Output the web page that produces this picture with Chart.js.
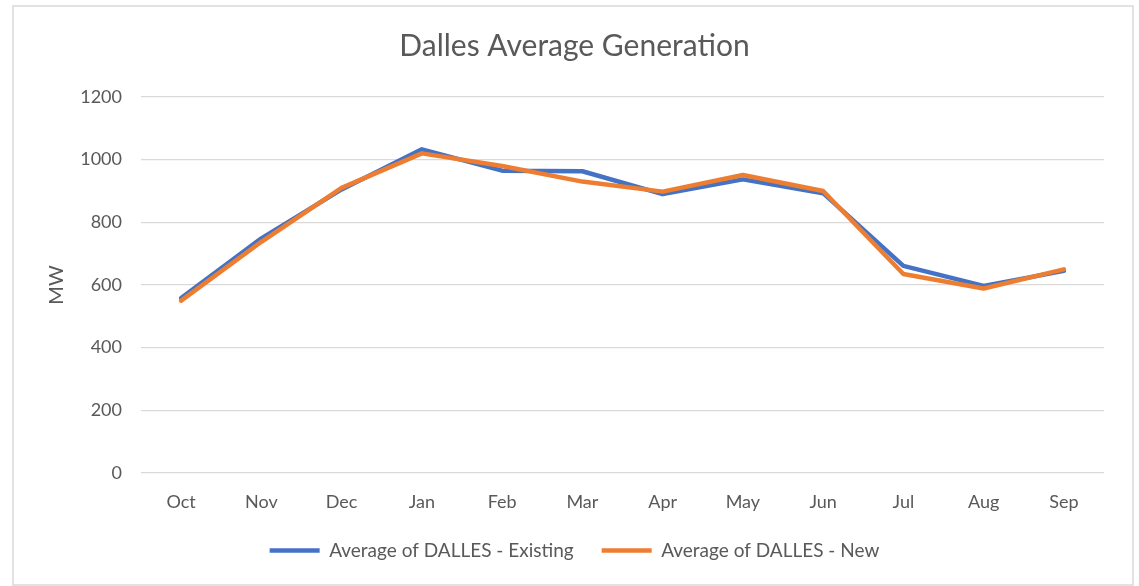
<!DOCTYPE html>
<html>
<head>
<meta charset="utf-8">
<script src="https://cdn.jsdelivr.net/npm/chart.js@4/dist/chart.umd.min.js"></script>
<style>
  html, body { margin: 0; padding: 0; background: #ffffff; }
  #wrap { position: relative; width: 1139px; height: 586px; }
</style>
</head>
<body>
<div id="wrap"><canvas id="c" width="1139" height="586"></canvas></div>
<script>
const months = ['Oct', 'Nov', 'Dec', 'Jan', 'Feb', 'Mar', 'Apr', 'May', 'Jun', 'Jul', 'Aug', 'Sep'];
const existingValues = [558, 749, 905, 1033, 965, 963, 890, 937, 893, 661, 597, 645];
const newValues = [550, 738, 910, 1020, 980, 930, 898, 951, 900, 635, 589, 650];
const seriesNames = ['Average of DALLES - Existing', 'Average of DALLES - New'];
const yTicks = [0, 200, 400, 600, 800, 1000, 1200];

const TEXT = '#595959';
const FONT = 'Lato, "Liberation Sans", sans-serif';
const LEG_PAD = 28;

const borderPlugin = {
  id: 'outerBorder',
  beforeDraw(chart) {
    const ctx = chart.ctx;
    ctx.save();
    ctx.fillStyle = '#ffffff';
    ctx.fillRect(0, 0, chart.width, chart.height);
    ctx.strokeStyle = '#d9d9d9';
    ctx.lineWidth = 1.5;
    ctx.strokeRect(13, 6, 1120, 579);
    ctx.restore();
  }
};

new Chart(document.getElementById('c'), {
  type: 'line',
  data: {
    labels: months,
    datasets: [
      {
        label: seriesNames[0],
        data: existingValues,
        borderColor: '#4472C4',
        backgroundColor: '#4472C4',
        borderWidth: 4.5,
        borderCapStyle: 'round',
        borderJoinStyle: 'round',
        pointRadius: 0,
        tension: 0,
        order: 2
      },
      {
        label: seriesNames[1],
        data: newValues,
        borderColor: '#ED7D31',
        backgroundColor: '#ED7D31',
        borderWidth: 4.5,
        borderCapStyle: 'round',
        borderJoinStyle: 'round',
        pointRadius: 0,
        tension: 0,
        order: 1
      }
    ]
  },
  options: {
    responsive: false,
    animation: false,
    layout: { padding: { left: 45, right: 35, top: 8, bottom: 16 } },
    plugins: {
      title: {
        display: true,
        text: 'Dalles Average Generation',
        color: TEXT,
        font: { family: FONT, size: 30, weight: 'normal' },
        padding: { top: 20, bottom: 33 }
      },
      legend: {
        position: 'bottom',
        labels: {
          color: TEXT,
          font: { family: FONT, size: 19 },
          usePointStyle: true,
          pointStyle: 'line',
          pointStyleWidth: 50,
          padding: LEG_PAD,
          sort: (a, b) => a.datasetIndex - b.datasetIndex
        }
      },
      tooltip: { enabled: false }
    },
    scales: {
      x: {
        offset: true,
        grid: { display: false, drawTicks: false },
        border: { display: false },
        ticks: { color: TEXT, font: { family: FONT, size: 18 }, padding: 18, maxRotation: 0 },
        afterFit(scale) { scale.height = 541 - LEG_PAD - 473; }
      },
      y: {
        min: 0,
        max: 1200,
        afterBuildTicks(scale) { scale.ticks = yTicks.map(v => ({ value: v })); },
        grid: { color: '#d9d9d9', lineWidth: 1.3, drawTicks: false },
        border: { display: false },
        ticks: {
          color: TEXT,
          font: { family: FONT, size: 18 },
          padding: 19,
          callback: (v) => String(v)
        },
        title: {
          display: true,
          text: 'MW',
          color: TEXT,
          font: { family: FONT, size: 20 },
          padding: { top: 0, bottom: 0 }
        },
        afterFit(scale) { scale.width = 96; }
      }
    }
  },
  plugins: [borderPlugin]
});
</script>
</body>
</html>
